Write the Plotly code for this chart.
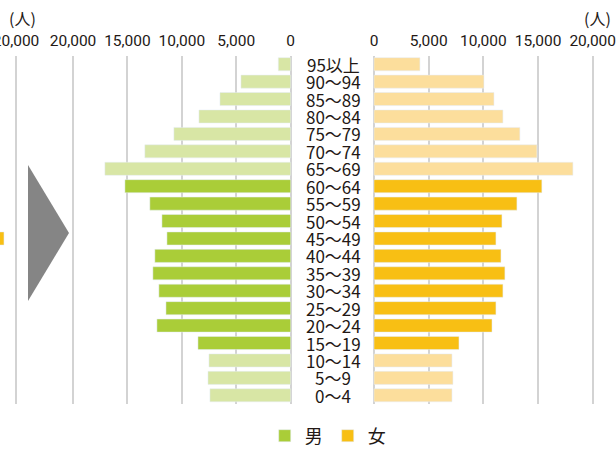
import plotly.graph_objects as go

ages = ["0～4", "5～9", "10～14", "15～19", "20～24", "25～29", "30～34", "35～39",
        "40～44", "45～49", "50～54", "55～59", "60～64", "65～69", "70～74", "75～79",
        "80～84", "85～89", "90～94", "95以上"]
male = [7420, 7600, 7510, 8520, 12290, 11460, 12110, 12660, 12480, 11370,
        11830, 12940, 15230, 17070, 13400, 10730, 8430, 6500, 4570, 1140]
female = [7130, 7220, 7130, 7770, 10790, 11150, 11790, 11970, 11610, 11150,
          11700, 13070, 15350, 18190, 14900, 13340, 11790, 10970, 10050, 4200]
# visible part of the neighbouring (cropped) chart on the left
prev_female = [None, None, None, None, None, None, None, None, None, 18900,
               None, None, None, None, None, None, None, None, None, None]
tick_vals = [0, 5000, 10000, 15000, 20000]
working = set(ages[3:13])

C_M, C_ML = "#AACD38", "#D8E6A5"
C_F, C_FL = "#F8BF14", "#FCDE9C"
TXT = "#231815"
GRID = "#D3D3D3"
W, H = 616, 450
NARROW = "Liberation Sans Narrow, Roboto, sans-serif"
CJK = "Noto Sans CJK JP, sans-serif"


def split(vals, bright):
    return [v if ((a in working) == bright) else None for a, v in zip(ages, vals)]


fig = go.Figure()
fig.add_bar(y=ages, x=split(male, True), orientation="h", marker_color=C_M,
            name="男", xaxis="x", yaxis="y", legendrank=1)
fig.add_bar(y=ages, x=split(male, False), orientation="h", marker_color=C_ML,
            showlegend=False, xaxis="x", yaxis="y")
fig.add_bar(y=ages, x=split(female, True), orientation="h", marker_color=C_F,
            name="女", xaxis="x2", yaxis="y", legendrank=2)
fig.add_bar(y=ages, x=split(female, False), orientation="h", marker_color=C_FL,
            showlegend=False, xaxis="x2", yaxis="y")
fig.add_bar(y=ages, x=prev_female, orientation="h", marker_color=C_F,
            showlegend=False, xaxis="x3", yaxis="y")

axis_common = dict(side="top", tickvals=tick_vals, tickformat=",", showgrid=True,
                   gridcolor=GRID, gridwidth=1.5, zeroline=False, showline=False,
                   ticks="", tickangle=0, automargin=False,
                   ticklabeloverflow="allow", ticklabelstandoff=5,
                   tickfont=dict(family=NARROW, size=15.5, color=TXT),
                   fixedrange=True)

# male axis: 0 at x=290.7px, 20000 at x=73px
m_ppu = (290.7 - 73) / 20000
mL, mR = 60, 294
f_ppu = (592.7 - 374) / 20000
fL, fR = 368, 604
pL, pR = 0, 24
p_ppu = f_ppu

fig.update_layout(
    width=W, height=H, margin=dict(l=0, r=0, t=0, b=0, autoexpand=False),
    paper_bgcolor="white", plot_bgcolor="white",
    barmode="overlay", bargap=0.25,
    font=dict(family=CJK, color=TXT, size=17),
    xaxis=dict(domain=[mL / W, mR / W],
               range=[(290.7 - mL) / m_ppu, (290.7 - mR) / m_ppu], anchor="y",
               **axis_common),
    xaxis2=dict(domain=[fL / W, fR / W],
                range=[(fL - 374) / f_ppu, (fR - 374) / f_ppu], anchor="y",
                **axis_common),
    xaxis3=dict(domain=[pL / W, pR / W],
                range=[20000 - (16 - pL) / p_ppu, 20000 + (pR - 16) / p_ppu],
                anchor="y", **axis_common),
    yaxis=dict(domain=[1 - 404 / H, 1 - 55.5 / H], range=[-0.5, 19.5],
               showticklabels=False, showgrid=False, zeroline=False,
               automargin=False, fixedrange=True,
               categoryorder="array", categoryarray=ages),
    legend=dict(orientation="h", x=0.532, xanchor="center", y=1 - 436 / H,
                yanchor="middle", font=dict(family=CJK, size=18, color=TXT),
                bgcolor="rgba(0,0,0,0)"),
    showlegend=True,
)

for a in ages:
    fig.add_annotation(x=333 / W, xref="paper", y=a, yref="y", text=a,
                       showarrow=False, xanchor="center", yanchor="middle",
                       font=dict(family=CJK, size=17, color=TXT))

for xc in (22, 597):
    fig.add_annotation(x=xc / W, xref="paper", y=1 - 18 / H, yref="paper",
                       text="(人)", showarrow=False, xanchor="center",
                       yanchor="middle", font=dict(family=CJK, size=16, color=TXT))

# decorative arrow between the two charts
tri = [(28, 165), (69, 233), (28, 301)]
path = "M " + " L ".join(f"{x / W},{1 - y / H}" for x, y in tri) + " Z"
fig.add_shape(type="path", path=path, xref="paper", yref="paper",
              fillcolor="#858585", line=dict(width=0), layer="above")

fig.write_html("out.html", config={"displayModeBar": False},
               post_script="document.body.style.margin='0';"
                           "document.body.style.padding='0';")
